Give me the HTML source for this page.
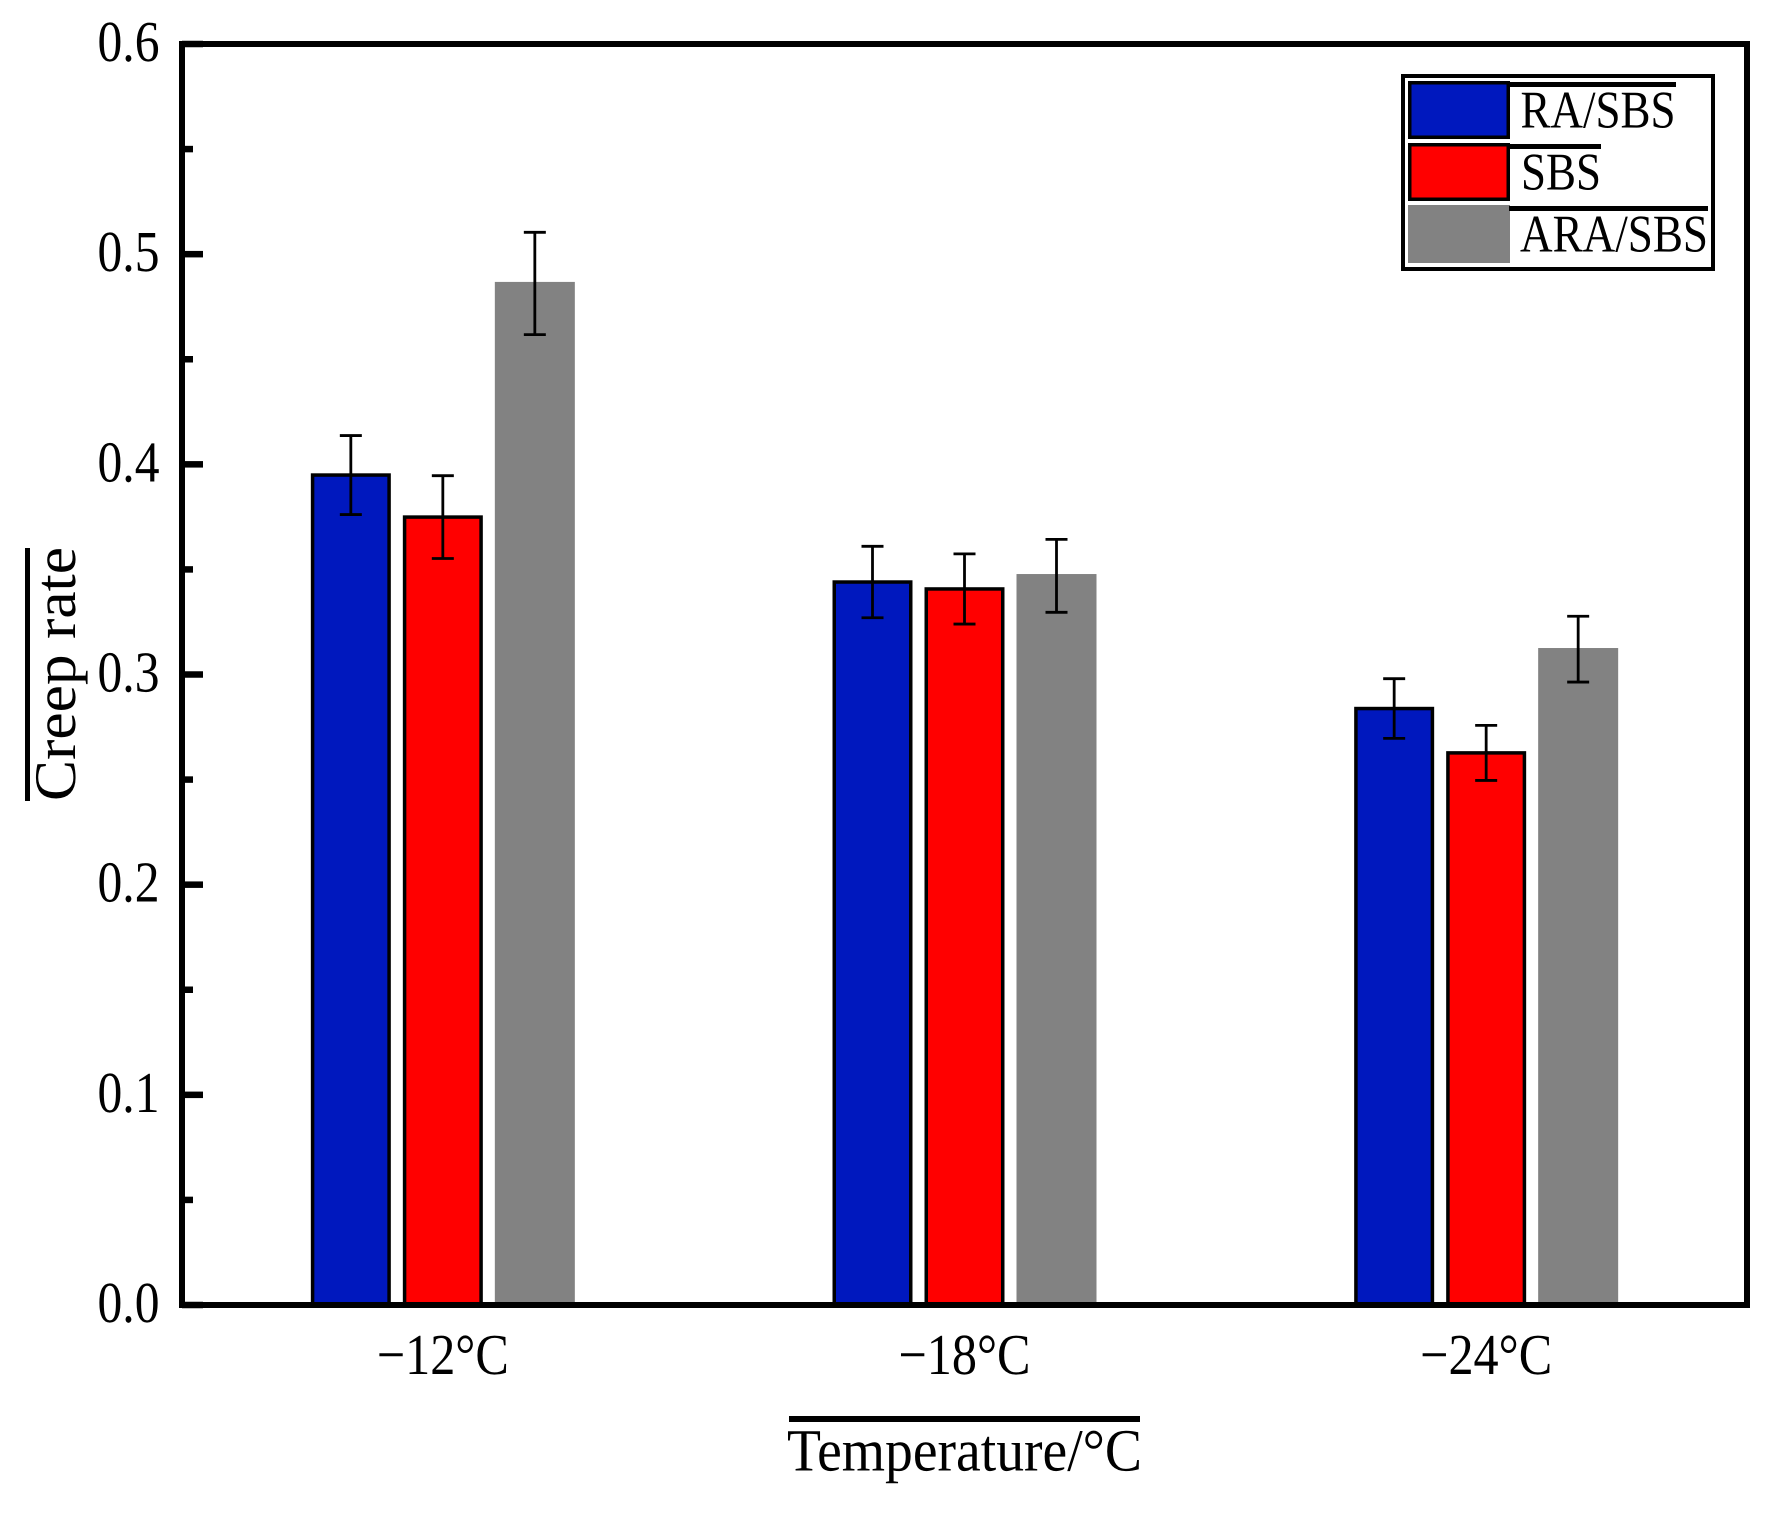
<!DOCTYPE html>
<html lang="en">
<head>
<meta charset="utf-8">
<title>Creep rate by temperature</title>
<style>
html,body{margin:0;padding:0;background:#fff;}
svg{display:block;}
text{font-family:"Liberation Serif","Times New Roman",serif;fill:#000;text-rendering:geometricPrecision;}
</style>
</head>
<body>
<svg id="chart" xmlns="http://www.w3.org/2000/svg" width="1776" height="1513" viewBox="0 0 1776 1513">
  <rect x="0" y="0" width="1776" height="1513" fill="#fff"/>
  <g id="bars"></g>
  <g id="errors"></g>
  <g id="yaxis"></g>
  <g id="xaxis"></g>
  <rect x="182" y="44" width="1565" height="1261" fill="none" stroke="#000" stroke-width="6"/>

  <rect x="25" y="548" width="5" height="253" fill="#000"/>
  <text transform="translate(75,801) rotate(-90)" font-size="59" textLength="254" lengthAdjust="spacingAndGlyphs">Creep rate</text>
  <rect x="789" y="1416" width="351" height="6" fill="#000"/>
  <text x="787" y="1470.5" font-size="60" textLength="355" lengthAdjust="spacingAndGlyphs">Temperature/°C</text>

  <g>
    <rect x="1403" y="76" width="310" height="193" fill="#fff" stroke="#000" stroke-width="4"/>
    <g>
      <rect x="1409.75" y="82.75" width="98.5" height="54.5" fill="#0018BE" stroke="#000" stroke-width="3.5"/>
      <rect x="1509" y="82" width="167" height="5" fill="#000"/>
      <text x="1520.5" y="127.5" font-size="53" textLength="155" lengthAdjust="spacingAndGlyphs">RA/SBS</text>
    </g>
    <g>
      <rect x="1409.75" y="144.75" width="98.5" height="54.5" fill="#FF0000" stroke="#000" stroke-width="3.5"/>
      <rect x="1509" y="144" width="92" height="5" fill="#000"/>
      <text x="1521" y="189.5" font-size="53" textLength="80" lengthAdjust="spacingAndGlyphs">SBS</text>
    </g>
    <g>
      <rect x="1408" y="205" width="102" height="58" fill="#828282"/>
      <rect x="1509" y="206" width="199" height="5" fill="#000"/>
      <text x="1520" y="251.5" font-size="53" textLength="188" lengthAdjust="spacingAndGlyphs">ARA/SBS</text>
    </g>
  </g>
</svg>
<script>
const categories = ['\u221212\u00B0C', '\u221218\u00B0C', '\u221224\u00B0C'];
const seriesNames = ['ra-sbs', 'sbs', 'ara-sbs'];
const raSbsValues = [0.3949, 0.3440, 0.2838];
const sbsValues = [0.3749, 0.3407, 0.2627];
const araSbsValues = [0.4868, 0.3478, 0.3126];
const raSbsErrorsUp = [0.0188, 0.0170, 0.0142];
const raSbsErrorsDown = [0.0188, 0.0170, 0.0142];
const sbsErrorsUp = [0.0197, 0.0167, 0.0131];
const sbsErrorsDown = [0.0197, 0.0167, 0.0131];
const araSbsErrorsUp = [0.0236, 0.0165, 0.0151];
const araSbsErrorsDown = [0.0251, 0.0182, 0.0162];
const majorTicks = [0.0, 0.1, 0.2, 0.3, 0.4, 0.5, 0.6];
const minorTicks = [0.05, 0.15, 0.25, 0.35, 0.45, 0.55];

const NS = 'http://www.w3.org/2000/svg';
const plotLeft = 182, plotRight = 1747, plotTop = 44, plotBottom = 1305;
const yMin = 0, yMax = 0.6;
function yScale(v) { return plotBottom - (v - yMin) / (yMax - yMin) * (plotBottom - plotTop); }
function xBand(i) { return plotLeft + (i + 0.5) * (plotRight - plotLeft) / categories.length; }
function xBar(i, s) { return xBand(i) + (s - 1) * 92; }

function make(tag, attrs, parent) {
  const el = document.createElementNS(NS, tag);
  for (const k in attrs) el.setAttribute(k, attrs[k]);
  parent.appendChild(el);
  return el;
}

const seriesValues = [raSbsValues, sbsValues, araSbsValues];
const seriesUp = [raSbsErrorsUp, sbsErrorsUp, araSbsErrorsUp];
const seriesDown = [raSbsErrorsDown, sbsErrorsDown, araSbsErrorsDown];
const seriesFill = ['#0018BE', '#FF0000', '#828282'];
const barW = 80, strokeW = 3.5, capW = 22;
const barsG = document.getElementById('bars');
const errG = document.getElementById('errors');
const yG = document.getElementById('yaxis');
const xG = document.getElementById('xaxis');

seriesValues.forEach(function (vals, s) {
  vals.forEach(function (v, i) {
    const cx = xBar(i, s);
    const top = yScale(v);
    const stroked = s < 2;
    const inset = stroked ? strokeW / 2 : 0;
    const bar = make('rect', {
      x: cx - barW / 2 + inset,
      y: top,
      width: barW - 2 * inset,
      height: plotBottom - top,
      fill: seriesFill[s],
      stroke: stroked ? '#000' : 'none',
      'stroke-width': stroked ? strokeW : 0
    }, barsG);
    
    

    const yHi = yScale(v + seriesUp[s][i]), yLo = yScale(v - seriesDown[s][i]);
    const g = make('g', { stroke: '#000', 'stroke-width': 2.8, fill: 'none' }, errG);
    
    
    make('line', { x1: cx, x2: cx, y1: yHi, y2: yLo }, g);
    make('line', { x1: cx - capW / 2, x2: cx + capW / 2, y1: yHi, y2: yHi }, g);
    make('line', { x1: cx - capW / 2, x2: cx + capW / 2, y1: yLo, y2: yLo }, g);
  });
});

majorTicks.forEach(function (t) {
  const y = yScale(t);
  const tick = make('rect', { x: plotLeft, y: y - 3.25, width: 21, height: 6.5, fill: '#000' }, yG);
  
  
  const label = make('text', { x: 97.5, y: y + 17, 'font-size': 58, textLength: 62, lengthAdjust: 'spacingAndGlyphs' }, yG);
  
  
  label.textContent = t.toFixed(1);
});
minorTicks.forEach(function (t) {
  const y = yScale(t);
  const tick = make('rect', { x: plotLeft, y: y - 3.25, width: 11, height: 6.5, fill: '#000' }, yG);
  
  
});
categories.forEach(function (c, i) {
  const label = make('text', { x: xBand(i) - 66, y: 1374, 'font-size': 58, textLength: 132, lengthAdjust: 'spacingAndGlyphs' }, xG);
  
  
  label.textContent = c;
});
</script>
</body>
</html>
